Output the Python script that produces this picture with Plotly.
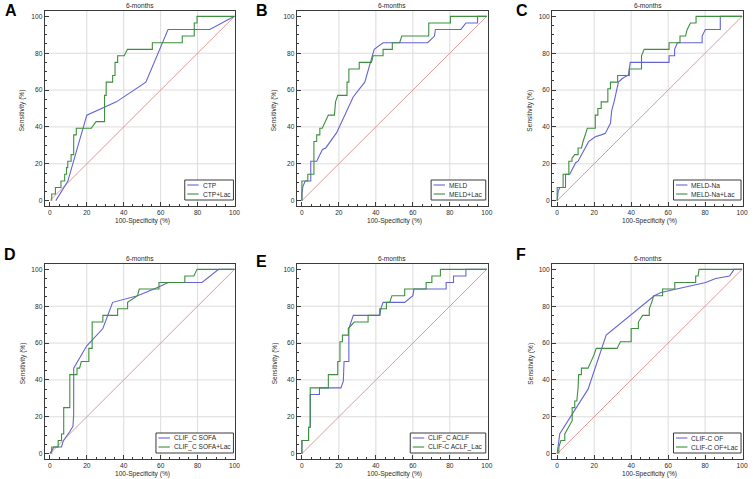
import plotly.graph_objects as go

W, H = 753, 479

# ---------------- data (vertices of ROC curves, % scale) ----------------
panel_letters = ["A", "B", "C", "D", "E", "F"]
panel_titles = ["6-months", "6-months", "6-months", "6-months", "6-months", "6-months"]
x_title = "100-Specificity (%)"
y_title = "Sensitivity (%)"
tick_values = [0, 20, 40, 60, 80, 100]
grid_values = [20, 40, 60, 80]
diag_x = [0, 100]
diag_y = [0, 100]

names_a = ["CTP", "CTP+Lac"]
ctp_fpr = [3.2, 9.7, 13, 20, 36, 52, 64, 86.6, 100]
ctp_tpr = [0, 10.5, 22, 46.4, 53.6, 64.3, 92.9, 92.9, 100]
ctp_lac_fpr = [1, 1, 3, 3, 6, 6, 8, 8, 9, 9, 9.7, 9.7, 11.5, 11.5, 12.9, 12.9, 14.3, 14.3, 22.4, 25, 29.6, 29.6,
               30.5, 30.5, 34, 34, 35.3, 35.3, 36.7, 36.7, 40.3, 42, 55.5, 55.5, 71.7, 71.7, 78.2, 78.2, 79.7,
               79.7, 100]
ctp_lac_tpr = [0, 3.6, 3.6, 7.1, 7.1, 10.7, 10.7, 14.3, 14.3, 17.9, 17.9, 21.4, 21.4, 25, 25, 35.7, 35.7, 39.3,
               39.3, 42.9, 42.9, 57.1, 57.1, 64.3, 64.3, 67.9, 67.9, 75, 75, 78.6, 78.6, 82.1, 82.1, 85.7, 85.7,
               89.3, 89.3, 96.4, 96.4, 100, 100]

names_b = ["MELD", "MELD+Lac"]
meld_fpr = [0, 0, 0.5, 1.8, 4.8, 4.8, 8, 11.1, 12.9, 18.8, 27.8, 34, 39.1, 43.9, 68, 71.7, 72.2, 86, 88.7, 95,
            95, 100]
meld_tpr = [0, 3.6, 7.6, 10.7, 10.7, 21.4, 21.4, 27.8, 28.6, 36.9, 56.4, 64.3, 82.1, 85.7, 85.7, 89.3, 92.9,
            92.9, 96.4, 96.4, 100, 100]
meld_lac_fpr = [0, 0, 3.2, 3.2, 6.5, 6.5, 8, 8, 9.7, 9.7, 11, 14.3, 17.6, 18.2, 19.4, 24.4, 24.4, 25.4, 25.4,
                31, 31, 37.6, 38.5, 43.9, 43.9, 48.9, 48.9, 52.9, 54, 68.6, 68.6, 80.3, 80.3, 100]
meld_lac_tpr = [0, 10.7, 10.7, 14.3, 14.3, 32.1, 32.1, 35.7, 35.7, 39.3, 39.3, 46.4, 46.4, 53.6, 57.1, 57.1,
                64.3, 64.3, 71.4, 71.4, 75, 75, 78.6, 78.6, 82.1, 82.1, 85.7, 85.7, 89.3, 89.3, 96.4, 96.4,
                100, 100]

names_c = ["MELD-Na", "MELD-Na+Lac"]
meldna_fpr = [0, 0.5, 1.4, 4.5, 4.5, 6.8, 10, 11.3, 17, 20.6, 23.8, 26, 28.8, 29.5, 31, 33.1, 35.4, 38.5, 39,
              39.5, 60.5, 60.5, 63.5, 63.5, 65, 78.4, 78.4, 80.1, 88.2, 88.2, 100]
meldna_tpr = [0, 4.9, 7.1, 7.1, 14.3, 14.3, 20.6, 21.4, 32, 34.7, 35.7, 36.5, 42, 49, 54.6, 64.3, 66.4, 68.2,
              71.4, 75, 75, 78.6, 78.6, 82.1, 85.7, 85.7, 89.3, 92.9, 92.9, 100, 100]
meldna_lac_fpr = [0, 0, 3.2, 3.2, 6.3, 6.3, 8, 8, 9.5, 11.3, 11.3, 13.1, 14, 15.2, 16.3, 20.6, 20.6, 22, 22,
                  23.8, 23.8, 27.4, 27.4, 28.8, 28.8, 32.7, 32.7, 39, 39, 45.6, 45.6, 47, 60.5, 60.5, 66.4,
                  66.4, 69.4, 70.3, 72.1, 75.1, 75.1, 100]
meldna_lac_tpr = [0, 7.1, 7.1, 14.3, 14.3, 21.4, 21.4, 23, 25, 25, 28.6, 28.6, 32.1, 35.7, 39.3, 39.3, 46.4,
                  46.4, 50, 50, 53.6, 53.6, 60.7, 60.7, 64.3, 64.3, 67.9, 67.9, 71.4, 71.4, 78.6, 82.1, 82.1,
                  85.7, 85.7, 89.3, 89.3, 92.9, 96.4, 96.4, 100, 100]

names_d = ["CLIF_C SOFA", "CLIF_C SOFA+Lac"]
sofa_fpr = [0, 2.2, 6.3, 7.2, 10.8, 12.5, 12.9, 12.9, 20, 28.7, 34, 47.5, 57.3, 64.2, 82.4, 91.4, 100]
sofa_tpr = [0, 3.6, 3.6, 6.7, 12, 14.8, 21.4, 46.4, 58.5, 67.9, 82.1, 85.7, 89.7, 92.9, 92.9, 100, 100]
sofa_lac_fpr = [1, 1, 4.5, 4.5, 6.3, 6.3, 7.5, 7.5, 10.8, 10.8, 14.7, 14.7, 16.1, 17, 21.1, 21.1, 22.9, 22.9,
                28.7, 28.7, 36.7, 36.7, 42.1, 42.1, 47.5, 48.4, 59.1, 59.1, 73.1, 73.1, 78, 79.7, 100]
sofa_lac_tpr = [0, 3.6, 3.6, 7.1, 7.1, 10.7, 10.7, 25, 25, 42.9, 42.9, 46.4, 46.4, 50, 50, 57.1, 57.1, 71.4,
                71.4, 75, 75, 78.6, 78.6, 82.1, 85.7, 89.3, 89.3, 92.9, 92.9, 96.4, 96.4, 100, 100]

names_e = ["CLIF_C ACLF", "CLIF-C ACLF_Lac"]
aclf_fpr = [0, 0, 3.6, 3.6, 4.5, 4.5, 9.5, 9.5, 21.1, 22.4, 22.8, 25.4, 25.4, 27.8, 42.1, 42.7, 43.9, 55.6,
            60, 60.6, 78, 78, 82, 82, 88.7, 88.7, 100]
aclf_tpr = [0, 7.1, 7.1, 14.3, 14.3, 32.1, 32.1, 35.7, 35.7, 39.3, 50, 50, 67.9, 75, 75, 78.6, 82.1, 82.1,
            85.7, 89.3, 89.3, 92.9, 92.9, 96.4, 96.4, 100, 100]
aclf_lac_fpr = [0, 0, 3.6, 3.6, 4.5, 4.5, 14.3, 14.3, 19.4, 19.4, 20.6, 20.6, 21.9, 21.9, 25.1, 25.1, 28.3,
                35.8, 35.8, 42.1, 42.1, 45.7, 45.7, 47.5, 48.7, 55.6, 55.6, 67.2, 67.2, 70.3, 70.3, 74.9, 74.9,
                100]
aclf_lac_tpr = [0, 7.1, 7.1, 14.3, 14.3, 35.7, 35.7, 42.9, 42.9, 50, 50, 60.7, 60.7, 64.3, 64.3, 67.9, 71.4,
                71.4, 75, 75, 78.6, 78.6, 82.1, 82.1, 85.7, 85.7, 89.3, 89.3, 92.9, 92.9, 96.4, 96.4, 100, 100]

names_f = ["CLIF-C OF", "CLIF-C OF+Lac"]
of_fpr = [0, 0.5, 1.4, 16.7, 26.5, 52.5, 56.1, 80.3, 85.7, 93.2, 95.7, 100]
of_tpr = [0, 4, 10.8, 35, 64.3, 85.7, 87.4, 92.9, 95, 96.4, 100, 100]
of_lac_fpr = [0.9, 0.9, 2, 4.1, 4.1, 5.9, 8.1, 8.1, 9.5, 9.5, 10.6, 11.3, 11.6, 13.1, 13.1, 16.7, 18.5, 19.9,
              21.1, 32.4, 34.2, 40, 40, 43.9, 43.9, 46.2, 49.8, 49.8, 51.1, 52.2, 57, 57, 63.6, 63.6, 74.9,
              74.9, 76.2, 76.7, 100]
of_lac_tpr = [0, 3.6, 7.1, 7.1, 10.7, 14.3, 17.9, 25, 25, 28.6, 28.6, 35.7, 42.9, 42.9, 46.4, 46.4, 50, 53.6,
              57.1, 57.1, 60.7, 60.7, 67.9, 67.9, 71.4, 75, 75, 78.6, 82.1, 85.7, 85.7, 89.3, 89.3, 92.9, 92.9,
              96.4, 96.4, 100, 100]

series = [
    (names_a, ctp_fpr, ctp_tpr, ctp_lac_fpr, ctp_lac_tpr),
    (names_b, meld_fpr, meld_tpr, meld_lac_fpr, meld_lac_tpr),
    (names_c, meldna_fpr, meldna_tpr, meldna_lac_fpr, meldna_lac_tpr),
    (names_d, sofa_fpr, sofa_tpr, sofa_lac_fpr, sofa_lac_tpr),
    (names_e, aclf_fpr, aclf_tpr, aclf_lac_fpr, aclf_lac_tpr),
    (names_f, of_fpr, of_tpr, of_lac_fpr, of_lac_tpr),
]

# ---------------- styling / layout ----------------
FONT = "Liberation Sans, Arial, sans-serif"
BLUE = "#6464d6"
GREEN = "#3d8f3d"
DIAG = "#dd9a9a"
FRAME = "#3a3a3a"
GRID = "#dcdcdc"
TXT = "#2a2a2a"
SMALL = 6.6

col_left = [45, 298.7, 555.7]
col_right = [237, 491, 748]
row_top = [11, 264]
row_bottom = [206, 459]
legend_w = [49, 55, 68, 78, 76, 68]
letter_pos = [(10.6, 10.5), (264, 10.5), (525, 10.5), (10, 254), (263, 261), (524, 255)]


def px(x):
    return x / W


def py(y):
    return 1 - y / H


fig = go.Figure()
shapes = []
annotations = []
layout_axes = {}

for i, (names, b_x, b_y, g_x, g_y) in enumerate(series):
    r, c = divmod(i, 3)
    n = "" if i == 0 else str(i + 1)
    xa, ya = "x" + n, "y" + n
    L, R, T, B = col_left[c], col_right[c], row_top[r], row_bottom[r]

    axis_common = dict(
        showline=True, mirror=True, linecolor=FRAME, linewidth=1,
        ticks="inside", ticklen=4, tickcolor=FRAME, tickwidth=1,
        tickmode="array", tickvals=tick_values,
        tickfont=dict(family=FONT, size=SMALL, color=TXT),
        showgrid=False, zeroline=False, fixedrange=True,
        minor=dict(ticks="inside", ticklen=2, dtick=5, tick0=0, tickcolor=FRAME, showgrid=False),
    )
    layout_axes["xaxis" + n] = dict(axis_common, domain=[px(L), px(R)], range=[-2.8, 100.5], anchor=ya)
    layout_axes["yaxis" + n] = dict(axis_common, domain=[py(B), py(T)], range=[-2.9, 102.9], anchor=xa)

    # grid lines
    for g in grid_values:
        shapes.append(dict(type="line", xref=xa, yref=ya + " domain", x0=g, x1=g, y0=0, y1=1,
                           line=dict(color=GRID, width=1), layer="below"))
        shapes.append(dict(type="line", xref=xa + " domain", yref=ya, x0=0, x1=1, y0=g, y1=g,
                           line=dict(color=GRID, width=1), layer="below"))

    fig.add_trace(go.Scatter(x=diag_x, y=diag_y, mode="lines", xaxis=xa, yaxis=ya, showlegend=False,
                             line=dict(color=DIAG, width=1), hoverinfo="skip"))
    fig.add_trace(go.Scatter(x=b_x, y=b_y, mode="lines", name=names[0], xaxis=xa, yaxis=ya,
                             showlegend=False, line=dict(color=BLUE, width=1.1)))
    fig.add_trace(go.Scatter(x=g_x, y=g_y, mode="lines", name=names[1], xaxis=xa, yaxis=ya,
                             showlegend=False, line=dict(color=GREEN, width=1.1)))

    # title
    annotations.append(dict(text=panel_titles[i], x=px((L + R) / 2), y=py(T - 6), xref="paper", yref="paper",
                            showarrow=False, xanchor="center", yanchor="middle",
                            font=dict(family=FONT, size=SMALL, color=TXT)))
    # axis titles
    annotations.append(dict(text=x_title, x=px((L + R) / 2 + 2), y=py(B + 15), xref="paper", yref="paper",
                            showarrow=False, xanchor="center", yanchor="middle",
                            font=dict(family=FONT, size=SMALL, color=TXT)))
    annotations.append(dict(text=y_title, x=px(L - 22), y=py((T + B) / 2 + 2), xref="paper", yref="paper",
                            showarrow=False, xanchor="center", yanchor="middle", textangle=-90,
                            font=dict(family=FONT, size=SMALL, color=TXT)))
    # panel letter
    lx, ly = letter_pos[i]
    annotations.append(dict(text="<b>" + panel_letters[i] + "</b>", x=px(lx), y=py(ly), xref="paper",
                            yref="paper", showarrow=False, xanchor="center", yanchor="middle",
                            font=dict(family=FONT, size=16, color="#000")))

    # legend box (manual)
    bx1 = R - 2
    bx0 = bx1 - legend_w[i]
    by1 = B - 6
    by0 = by1 - 20
    shapes.append(dict(type="rect", xref="paper", yref="paper", x0=px(bx0), x1=px(bx1), y0=py(by1), y1=py(by0),
                       line=dict(color=FRAME, width=1), fillcolor="white", layer="above"))
    for k, (nm, colr) in enumerate(zip(names, [BLUE, GREEN])):
        yy = by0 + 5 + k * 9
        shapes.append(dict(type="line", xref="paper", yref="paper", x0=px(bx0 + 2.5), x1=px(bx0 + 14),
                           y0=py(yy), y1=py(yy), line=dict(color=colr, width=1.1), layer="above"))
        annotations.append(dict(text=nm, x=px(bx0 + 16), y=py(yy), xref="paper", yref="paper",
                                showarrow=False, xanchor="left", yanchor="middle",
                                font=dict(family=FONT, size=SMALL, color=TXT)))

fig.update_layout(
    width=W, height=H, margin=dict(l=0, r=0, t=0, b=0),
    paper_bgcolor="white", plot_bgcolor="white",
    showlegend=False, shapes=shapes, annotations=annotations,
    font=dict(family=FONT, size=SMALL, color=TXT),
    hovermode=False,
    **layout_axes,
)

fig.write_html("out.html", config={"displayModeBar": False, "staticPlot": True},
               post_script="document.body.style.margin='0px';document.body.style.overflow='hidden';")
